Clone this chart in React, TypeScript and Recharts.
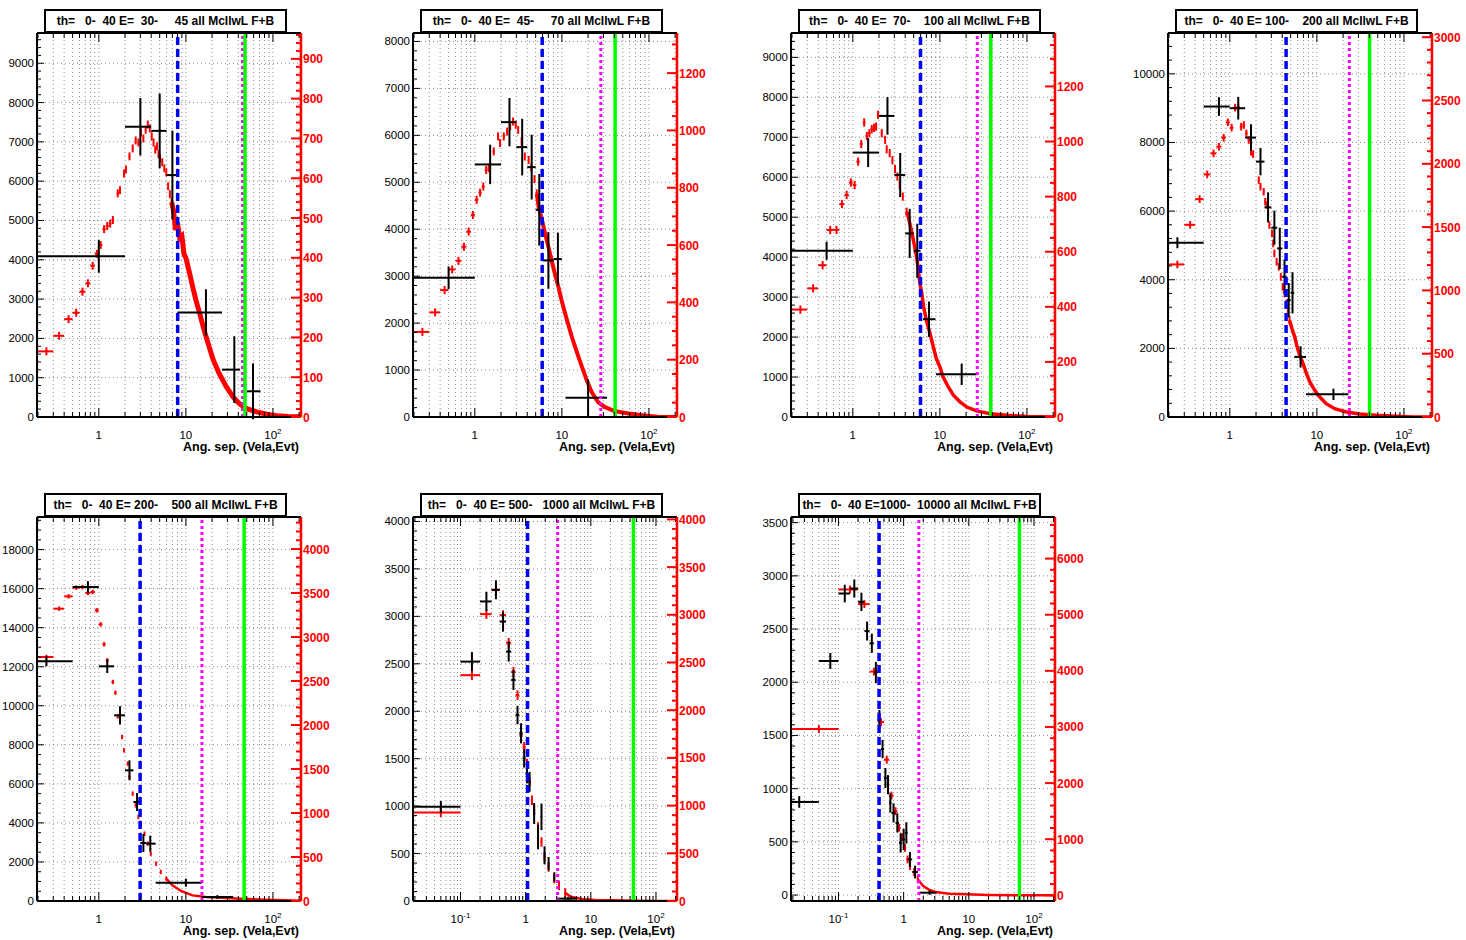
import React from "react";
import { ComposedChart, Scatter, Line, XAxis, YAxis, ErrorBar, ReferenceLine } from "recharts";

const FONT = "'Liberation Sans', Arial, Helvetica, sans-serif";

const titles = [
  "th=   0-  40 E=  30-     45 all McIlwL F+B",
  "th=   0-  40 E=  45-     70 all McIlwL F+B",
  "th=   0-  40 E=  70-    100 all McIlwL F+B",
  "th=   0-  40 E= 100-    200 all McIlwL F+B",
  "th=   0-  40 E= 200-    500 all McIlwL F+B",
  "th=   0-  40 E= 500-   1000 all McIlwL F+B",
  "th=   0-  40 E=1000-  10000 all McIlwL F+B",
];
const xTitle = "Ang. sep. (Vela,Evt)";

// black histogram (coarse bins): [x, bin low, bin high, count, error]
const black1 = [
  [1, 0.001, 2, 4090, 420], [3, 2, 4, 7385, 730], [5, 4, 6, 7280, 950], [7, 6, 8, 6155, 1130],
  [17, 8, 26, 2660, 590], [36, 26, 42, 1205, 850], [59, 50, 72, 654, 710],
];
const black2 = [
  [0.5, 0.001, 1, 2967, 241], [1.5, 1, 2, 5380, 420], [2.5, 2, 3, 6281, 515], [3.5, 3, 4, 5749, 603],
  [4.5, 4, 5, 5323, 690], [5.5, 5, 6, 4414, 763], [7, 6, 8, 3336, 603], [9, 8, 10, 3364, 560],
  [20, 11, 33, 412, 390],
];
const black3 = [
  [0.5, 0.001, 1, 4160, 226], [1.5, 1, 2, 6617, 363], [2.5, 2, 3, 7535, 470], [3.5, 3, 4, 6057, 551],
  [4.5, 4, 5, 4595, 614], [5.5, 5, 6, 4160, 677], [7.5, 6.4, 8.9, 2448, 443], [17.8, 9, 26.5, 1069, 268],
];
const black4 = [
  [0.25, 0.001, 0.5, 5078, 160], [0.75, 0.5, 1, 9047, 272], [1.25, 1, 1.5, 8998, 330],
  [1.75, 1.5, 2, 8142, 389], [2.25, 2, 2.5, 7442, 399], [2.75, 2.5, 3, 6109, 438],
  [3.25, 3, 3.5, 5516, 496], [3.75, 3.5, 4, 4912, 603], [4.25, 4, 4.5, 4086, 506],
  [4.75, 4.5, 5, 3405, 500], [5.25, 5, 5.5, 3619, 600], [6.5, 5.5, 7.5, 1751, 311],
  [15.5, 7.5, 23, 661, 165],
];
const black5 = [
  [0.25, 0.001, 0.5, 12278, 256], [0.75, 0.5, 1, 16086, 300], [1.25, 1, 1.5, 12022, 342],
  [1.75, 1.5, 2, 9511, 470], [2.25, 2, 2.5, 6694, 512], [2.75, 2.5, 3, 5072, 461],
  [3.25, 3, 3.5, 2971, 461], [3.9, 3.5, 4.5, 2937, 410], [10, 4.5, 15.2, 939, 205],
  [23, 15.2, 35, 200, 100],
];
const black6 = [
  [0.05, 0.001, 0.1, 992, 62], [0.15, 0.1, 0.2, 2523, 100], [0.25, 0.2, 0.3, 3157, 102],
  [0.35, 0.3, 0.4, 3280, 100], [0.45, 0.4, 0.5, 2945, 106], [0.55, 0.5, 0.6, 2629, 106],
  [0.65, 0.6, 0.7, 2330, 106], [0.75, 0.7, 0.8, 1960, 97], [0.85, 0.8, 0.9, 1767, 106],
  [0.95, 0.9, 1.0, 1503, 97], [1.05, 1.0, 1.1, 1340, 100], [1.15, 1.1, 1.2, 1256, 105],
  [1.35, 1.3, 1.4, 922, 110], [1.55, 1.5, 1.6, 675, 130], [1.75, 1.7, 1.8, 887, 140],
  [1.95, 1.9, 2.0, 482, 95], [2.25, 2.2, 2.3, 394, 70], [2.75, 2.7, 2.8, 253, 50],
  [4.5, 3, 6, 25, 20],
];
const black7 = [
  [0.025, 0.001, 0.05, 875, 55], [0.075, 0.05, 0.1, 2200, 75], [0.125, 0.1, 0.15, 2834, 83],
  [0.175, 0.15, 0.2, 2881, 85], [0.225, 0.2, 0.25, 2756, 86], [0.275, 0.25, 0.3, 2481, 89],
  [0.325, 0.3, 0.35, 2366, 90], [0.375, 0.35, 0.4, 2091, 100], [0.425, 0.4, 0.45, 1653, 86],
  [0.475, 0.45, 0.5, 1372, 86], [0.525, 0.5, 0.55, 1100, 94], [0.575, 0.55, 0.6, 1037, 90],
  [0.625, 0.6, 0.65, 866, 90], [0.7, 0.65, 0.75, 772, 90], [0.8, 0.75, 0.85, 678, 90],
  [0.9, 0.85, 0.95, 490, 90], [1.0, 0.95, 1.05, 522, 100], [1.1, 1.05, 1.15, 584, 100],
  [1.25, 1.15, 1.35, 334, 70], [1.5, 1.35, 1.65, 216, 60], [2.5, 1.7, 3.2, 22, 20],
];

// red histogram (0.1 deg bins): [x, count]
const red1 = [
  [0.25, 165], [0.35, 204], [0.45, 246], [0.55, 262], [0.65, 315], [0.75, 336], [0.85, 380],
  [0.95, 410], [1.05, 432], [1.15, 472], [1.25, 480], [1.35, 486], [1.45, 495], [1.65, 562],
  [1.75, 570], [1.95, 612], [2.05, 622], [2.25, 655], [2.45, 675], [2.65, 695], [2.85, 690],
  [3.05, 715], [3.25, 700], [3.45, 722], [3.65, 735], [3.85, 725], [4.05, 705], [4.25, 690],
  [4.45, 672], [4.65, 680], [4.85, 660], [5.05, 650], [5.35, 640], [5.65, 625], [5.95, 615],
  [6.25, 580], [6.55, 560], [6.85, 540],
];
const red2 = [
  [0.25, 297], [0.35, 365], [0.45, 443], [0.55, 515], [0.65, 545], [0.75, 594], [0.85, 647],
  [0.95, 705], [1.05, 758], [1.15, 783], [1.25, 804], [1.35, 862], [1.45, 868], [1.65, 927],
  [1.85, 979], [1.95, 956], [2.15, 979], [2.35, 996], [2.55, 1014], [2.75, 1031], [2.95, 1020],
  [3.15, 1002], [3.45, 962], [3.75, 909], [4.15, 897], [4.45, 870], [4.85, 830], [5.15, 780],
];
const red3 = [
  [0.25, 390], [0.35, 467], [0.45, 551], [0.55, 679], [0.65, 679], [0.75, 773], [0.85, 806],
  [0.95, 851], [1.05, 842], [1.15, 927], [1.25, 991], [1.35, 1069], [1.45, 1020], [1.55, 1030],
  [1.65, 1045], [1.75, 1050], [1.85, 1054], [1.95, 1097], [2.15, 1030], [2.35, 1006],
  [2.45, 972], [2.65, 958], [2.85, 932], [3.05, 900], [3.25, 873], [3.45, 842], [3.75, 800],
  [4.15, 745],
];
const red4 = [
  [0.25, 1205], [0.35, 1518], [0.45, 1721], [0.55, 1916], [0.65, 2082], [0.75, 2135],
  [0.85, 2206], [0.95, 2327], [1.05, 2285], [1.15, 2444], [1.25, 2446], [1.35, 2293],
  [1.45, 2306], [1.55, 2240], [1.65, 2188], [1.75, 2095], [1.85, 2077], [2.15, 1871],
  [2.25, 1819], [2.45, 1779], [2.55, 1700], [2.65, 1674], [2.75, 1608], [2.85, 1516],
  [3.05, 1450], [3.15, 1371], [3.25, 1292], [3.45, 1226], [3.65, 1186], [3.85, 1107],
  [4.05, 1028], [4.25, 975], [4.45, 896], [4.65, 844], [4.85, 764],
];
const red5 = [
  [0.25, 2773], [0.35, 3322], [0.45, 3462], [0.55, 3561], [0.65, 3568], [0.75, 3500],
  [0.85, 3512], [0.95, 3303], [1.05, 3144], [1.15, 2917], [1.25, 2735], [1.45, 2489],
  [1.55, 2367], [1.65, 2099], [1.85, 1864], [1.95, 1712], [2.15, 1561], [2.25, 1409],
  [2.45, 1220], [2.65, 1087], [2.85, 955], [3.05, 879], [3.35, 765], [3.65, 652],
  [3.95, 538], [4.55, 424], [5.15, 330], [5.95, 254],
];
const red6 = [
  [0.05, 927], [0.15, 2367], [0.25, 3007], [0.35, 3259], [0.45, 2997], [0.55, 2707],
  [0.65, 2402], [0.75, 2158], [0.85, 1738], [0.95, 1616], [1.05, 1441], [1.15, 1248],
  [1.25, 1056], [1.35, 951], [1.55, 776], [1.75, 619], [1.95, 462], [2.25, 357],
  [2.75, 234], [3.25, 164], [4.05, 84],
];
const red7 = [
  [0.05, 2962], [0.15, 5450], [0.25, 5189], [0.35, 3987], [0.45, 3086], [0.55, 2417],
  [0.65, 1777], [0.75, 1499], [0.85, 1203], [0.95, 1037], [1.05, 847], [1.15, 640],
  [1.25, 521], [1.45, 415], [1.65, 284],
];

// dense red tail: [x, count]
const tail1 = [
  [6.85, 540], [7.2, 520], [7.6, 470], [8, 488], [8.5, 450], [9, 455], [9.5, 410], [10, 400],
  [11, 362], [12, 326], [13, 295], [14.5, 258], [16, 222], [18, 185], [20.5, 145], [24, 110],
  [29, 77], [35, 50], [41, 34], [50, 21], [65, 13], [85, 7], [110, 3], [150, 1], [210, 0.5],
];
const tail2 = [
  [5.15, 780], [5.4, 734], [5.9, 688], [6.4, 641], [7, 594], [7.6, 548], [8.3, 501], [9.1, 455],
  [9.9, 408], [10.9, 361], [11.9, 320], [13, 280], [14.2, 245], [15.5, 210], [17, 175],
  [19.3, 128], [22, 87], [26, 52], [31, 35], [40, 21], [58, 12], [89, 5], [126, 1], [210, 0],
];
const tail3 = [
  [4.15, 745], [4.3, 730], [4.7, 679], [5.4, 582], [5.6, 545], [5.9, 485], [6.2, 448],
  [6.5, 400], [7, 351], [7.7, 303], [8.4, 255], [9.1, 212], [10, 182], [10.9, 145],
  [12.5, 109], [14.3, 79], [17, 55], [20.4, 36], [26.4, 22], [37.7, 12], [59, 6], [100, 2],
  [210, 0],
];
const tail4 = [
  [4.85, 764], [5.24, 685], [5.57, 633], [5.93, 554], [6.35, 488], [6.94, 422], [7.6, 343],
  [8.3, 277], [9.45, 211], [10.8, 158], [12.8, 105], [16, 66], [21.8, 40], [31, 24], [48, 13],
  [82, 5], [127, 0], [210, 0],
];
const tail5 = [
  [5.95, 254], [7, 178], [8.8, 114], [11.9, 64], [16.9, 45], [28.7, 34], [48.7, 23], [82, 15],
  [139, 8], [210, 4],
];
const tail6 = [
  [4.05, 84], [5.1, 42], [7.3, 21], [11.7, 10], [23.6, 7], [47.5, 3], [96, 0], [210, 0],
];
const tail7 = [
  [1.65, 284], [2, 166], [2.5, 95], [3.1, 59], [5, 30], [9, 18], [20, 6], [52, 0], [210, 0],
];

// red error per bin, in right axis units
const redErrs = [10, 14, 15, 30, 25, 50, 70];

// [blue dashed, magenta dotted, green solid]
const cuts = [
  [8.05, 44.8, 47.7], [5.94, 28, 40.9], [5.99, 26.9, 38.4], [4.43, 23.6, 40.3],
  [2.98, 15.3, 46.7], [1.07, 3.1, 45], [0.42, 1.71, 59.7],
];

// axes: [min, max, major step, minor step]
const leftAxes = [
  [0, 9770, 1000, 200], [0, 8180, 1000, 200], [0, 9610, 1000, 200], [0, 11190, 2000, 400],
  [0, 19670, 2000, 500], [0, 4047, 500, 100], [-56, 3553, 500, 100],
];
const rightAxes = [
  [0, 965, 100, 20], [0, 1340, 200, 50], [0, 1394, 200, 50], [0, 3033, 500, 100],
  [0, 4364, 500, 100], [0, 4025, 500, 100], [-101, 6741, 1000, 200],
];
const xDomains = [
  [0.195, 210], [0.195, 210], [0.195, 210], [0.195, 210], [0.195, 210],
  [0.0187, 210], [0.0187, 210],
];

// layout: frame top-left corner of every pad
const frames = [
  [37, 33], [413, 33], [791, 33], [1168, 33], [37, 517], [413, 517], [791, 517],
];
const tailWidths = [5, 4, 3.5, 3.5, 2.5, 2.5, 2.5];

const RED_HALF_BIN = 0.05;
const PW = 264;
const PH = 384;
const LW = 37;
const RW = 34;
const BH = 40;
const TOP = 10;

function logTicks(lo: number, hi: number) {
  const out: number[] = [];
  for (let e = -2; e <= 2; e++)
    for (let m = 1; m <= 9; m++) {
      const v = Number((m * Math.pow(10, e)).toPrecision(2));
      if (v >= lo && v <= hi) out.push(v);
    }
  return out;
}

function linTicks(lo: number, hi: number, step: number) {
  const out: number[] = [];
  for (let i = Math.ceil(lo / step); i * step <= hi; i++) out.push(i * step);
  return out;
}

const isDecade = (v: number) => Math.abs(Math.log10(v) - Math.round(Math.log10(v))) < 1e-6;
const isMult = (v: number, step: number) => Math.abs(v / step - Math.round(v / step)) < 1e-6;

function BottomTick(props: any) {
  const { x, y, payload } = props;
  const v = payload.value;
  const major = isDecade(v);
  const e = Math.round(Math.log10(v));
  return (
    <g>
      <line x1={x} x2={x} y1={y} y2={y - (major ? 9 : 5)} stroke="#000" strokeWidth={1} />
      {major && (
        <text x={x} y={y + 22} textAnchor="middle" fontSize={11.5} fontFamily={FONT} fill="#000">
          {e === 0 ? "1" : e === 1 ? "10" : (
            <>
              10<tspan dy={-5} fontSize={8}>{String(e)}</tspan>
            </>
          )}
        </text>
      )}
    </g>
  );
}

function TopTick(props: any) {
  const { x, y, payload } = props;
  const major = isDecade(payload.value);
  return <line x1={x} x2={x} y1={y} y2={y + (major ? 9 : 5)} stroke="#000" strokeWidth={1} />;
}

const leftTick = (step: number) => (props: any) => {
  const { x, y, payload } = props;
  const v = payload.value;
  const major = isMult(v, step);
  return (
    <g>
      <line x1={x} x2={x + (major ? 7 : 4)} y1={y} y2={y} stroke="#000" strokeWidth={1} />
      {major && (
        <text x={x - 3} y={y + 4} textAnchor="end" fontSize={11.5} fontFamily={FONT} fill="#000">
          {String(Math.round(v))}
        </text>
      )}
    </g>
  );
};

const rightTick = (step: number) => (props: any) => {
  const { x, y, payload } = props;
  const v = payload.value;
  const major = isMult(v, step);
  return (
    <g>
      <line x1={x} x2={x - (major ? 10 : 5)} y1={y} y2={y} stroke="#ff0000" strokeWidth={2} />
      {major && (
        <text x={x + 2} y={y + 4.5} textAnchor="start" fontSize={12} fontWeight="bold" fontFamily={FONT} fill="#ff0000">
          {String(Math.round(v))}
        </text>
      )}
    </g>
  );
};

const noShape = () => <g />;

const blacks = [black1, black2, black3, black4, black5, black6, black7];
const reds = [red1, red2, red3, red4, red5, red6, red7];
const tails = [tail1, tail2, tail3, tail4, tail5, tail6, tail7];

const panels = titles.map((title, i) => ({
  title,
  frame: frames[i],
  xDom: xDomains[i],
  left: leftAxes[i],
  right: rightAxes[i],
  black: blacks[i],
  red: reds[i],
  tail: tails[i],
  redErr: redErrs[i],
  cuts: cuts[i],
  tailW: tailWidths[i],
}));

function Panel({ p }: { p: any }) {
  const [fl, ft] = p.frame;
  const [xMin, xMax] = p.xDom;
  const [lMin, lMax, lMaj, lMinor] = p.left;
  const [rMin, rMax, rMaj, rMinor] = p.right;
  const xt = logTicks(xMin, xMax);
  const lt = linTicks(lMin, lMax, lMinor);
  const rt = linTicks(rMin, rMax, rMinor);
  const hGrid = linTicks(lMin, lMax, lMaj);

  // bin edges are clipped to the visible x range so the crosses stay inside the frame
  const edges = (x: number, lo: number, hi: number) => [x - Math.max(lo, xMin), Math.min(hi, xMax) - x];
  const blackData = p.black.map(([x, lo, hi, y, ey]: number[]) => ({ x, y, ex: edges(x, lo, hi), ey }));
  const redData = p.red.map(([x, y]: number[]) => ({
    x,
    y,
    ex: edges(x, x - RED_HALF_BIN, x + RED_HALF_BIN),
    ey: p.redErr,
  }));
  const tailData = p.tail.map(([x, y]: number[]) => ({ x, y }));
  const [blue, magenta, green] = p.cuts;

  return (
    <>
      <div
        style={{
          position: "absolute",
          left: fl + 7,
          top: ft - 24,
          width: 243,
          height: 24,
          boxSizing: "border-box",
          border: "2px solid #000",
          background: "#fff",
          fontFamily: FONT,
          fontWeight: "bold",
          fontSize: 12,
          lineHeight: "20px",
          textAlign: "center",
          whiteSpace: "pre",
          zIndex: 2,
        }}
      >
        {p.title}
      </div>
      <div style={{ position: "absolute", left: fl - LW, top: ft - 1 - TOP }}>
        <ComposedChart width={LW + PW + RW} height={TOP + 1 + PH + BH} margin={{ top: TOP, right: 0, bottom: 0, left: 0 }}>
          <XAxis
            xAxisId="b"
            type="number"
            scale="log"
            dataKey="x"
            domain={p.xDom}
            allowDataOverflow
            ticks={xt}
            interval={0}
            tickSize={0}
            tickMargin={0}
            tickLine={false}
            axisLine={{ stroke: "#000", strokeWidth: 2 }}
            tick={BottomTick}
            height={BH}
          />
          <XAxis
            xAxisId="t"
            orientation="top"
            type="number"
            scale="log"
            dataKey="x"
            domain={p.xDom}
            allowDataOverflow
            ticks={xt}
            interval={0}
            tickSize={0}
            tickMargin={0}
            tickLine={false}
            axisLine={{ stroke: "#000", strokeWidth: 2 }}
            tick={TopTick}
            height={1}
          />
          <YAxis
            yAxisId="L"
            type="number"
            dataKey="y"
            domain={[lMin, lMax]}
            allowDataOverflow
            ticks={lt}
            interval={0}
            tickSize={0}
            tickMargin={0}
            tickLine={false}
            axisLine={{ stroke: "#000", strokeWidth: 2 }}
            tick={leftTick(lMaj)}
            width={LW}
          />
          <YAxis
            yAxisId="R"
            orientation="right"
            type="number"
            dataKey="y"
            domain={[rMin, rMax]}
            allowDataOverflow
            ticks={rt}
            interval={0}
            tickSize={0}
            tickMargin={0}
            tickLine={false}
            axisLine={{ stroke: "#ff0000", strokeWidth: 2.5 }}
            tick={rightTick(rMaj)}
            width={RW}
          />
          {xt.map((v) => (
            <ReferenceLine key={"gx" + v} xAxisId="b" yAxisId="L" x={v} stroke="#8c8c8c" strokeDasharray="1 3" />
          ))}
          {hGrid.map((v) => (
            <ReferenceLine key={"gy" + v} xAxisId="b" yAxisId="L" y={v} stroke="#8c8c8c" strokeDasharray="1 3" />
          ))}
          <Line
            xAxisId="b"
            yAxisId="R"
            data={tailData}
            dataKey="y"
            type="linear"
            stroke="#ff0000"
            strokeWidth={p.tailW}
            dot={false}
            activeDot={false}
            isAnimationActive={false}
          />
          <Scatter xAxisId="b" yAxisId="R" data={redData} dataKey="y" shape={noShape} isAnimationActive={false}>
            <ErrorBar dataKey="ex" direction="x" stroke="#ff0000" strokeWidth={2} width={0} isAnimationActive={false} />
            <ErrorBar dataKey="ey" direction="y" stroke="#ff0000" strokeWidth={2} width={0} isAnimationActive={false} />
          </Scatter>
          <Scatter xAxisId="b" yAxisId="L" data={blackData} dataKey="y" shape={noShape} isAnimationActive={false}>
            <ErrorBar dataKey="ex" direction="x" stroke="#000" strokeWidth={2} width={0} isAnimationActive={false} />
            <ErrorBar dataKey="ey" direction="y" stroke="#000" strokeWidth={2} width={0} isAnimationActive={false} />
          </Scatter>
          <ReferenceLine xAxisId="b" yAxisId="L" x={blue} stroke="#0000ff" strokeWidth={3.5} strokeDasharray="8 4" />
          <ReferenceLine xAxisId="b" yAxisId="L" x={magenta} stroke="#ff00ff" strokeWidth={3} strokeDasharray="3 3" />
          <ReferenceLine xAxisId="b" yAxisId="L" x={green} stroke="#00ff00" strokeWidth={3.5} />
        </ComposedChart>
      </div>
      <div
        style={{
          position: "absolute",
          left: fl,
          top: ft + PH + 23,
          width: PW - 2,
          textAlign: "right",
          fontFamily: FONT,
          fontWeight: "bold",
          fontSize: 12.5,
          lineHeight: "14px",
          whiteSpace: "nowrap",
        }}
      >
        {xTitle}
      </div>
    </>
  );
}

export default function App() {
  return (
    <div style={{ position: "absolute", left: 0, top: 0, width: 1466, height: 940, background: "#fff" }}>
      {panels.map((p, i) => (
        <Panel key={i} p={p} />
      ))}
    </div>
  );
}
